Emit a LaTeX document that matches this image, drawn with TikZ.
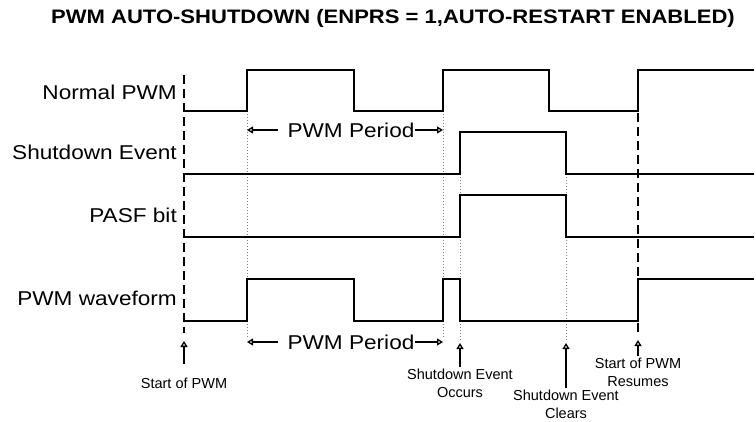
\documentclass[tikz,border=0pt]{standalone}
\usepackage{fontspec}
\setmainfont{Liberation Sans}
\newfontfamily\widesans[FakeStretch=1.13]{Liberation Sans}
\usetikzlibrary{arrows.meta,positioning}

\begin{document}
\begin{tikzpicture}[x=1pt,y=-1pt,
    sig/.style={line width=1.4pt,line join=miter},
    lbl/.style={anchor=east,inner sep=0pt,font=\widesans\fontsize{20}{22}\selectfont},
    period/.style={inner sep=0pt,font=\widesans\fontsize{20}{22}\selectfont},
    guide/.style={gray,dotted,line width=1pt},
    edgeline/.style={line width=1.4pt,dash pattern=on 9pt off 5pt},
    evt/.style={line width=1.3pt,-{Triangle[open,length=6pt,width=7pt]}},
    note/.style={align=center,inner sep=1pt,font=\fontsize{14.5}{18}\selectfont}]

 \useasboundingbox (0,0) rectangle (756,421);

 \node[font=\widesans\bfseries\fontsize{19.5}{21}\selectfont] (title) at (393,18) {PWM AUTO-SHUTDOWN (ENPRS = 1,AUTO-RESTART ENABLED)};

 % signal names
 \node[lbl] (npwm) at (177,92) {Normal PWM};
 \node[lbl] (sdev) at (177,152) {Shutdown Event};
 \node[lbl] (pasf) at (177,215) {PASF bit};
 \node[lbl] (pwmw) at (177,298) {PWM waveform};

 % guide lines
 \draw[guide] (247,111) -- (247,338);
 \draw[guide] (443,111) -- (443,338);
 \draw[guide] (460,132) -- (460,341);
 \draw[guide] (566,132) -- (566,341);
 \draw[edgeline] (184,75) -- (184,333);
 \draw[edgeline] (638,113) -- (638,335);

 % waveforms
 \draw[sig] (184,111) -- (247,111) -- (247,70) -- (354,70) -- (354,111) -- (443,111) -- (443,70) -- (549,70) -- (549,111) -- (638,111) -- (638,70) -- (754,70);
 \draw[sig] (184,174) -- (460,174) -- (460,132) -- (566,132) -- (566,174) -- (754,174);
 \draw[sig] (184,237) -- (460,237) -- (460,195) -- (566,195) -- (566,237) -- (754,237);
 \draw[sig] (184,321) -- (247,321) -- (247,279) -- (354,279) -- (354,321) -- (443,321) -- (443,279) -- (460,279) -- (460,321) -- (638,321) -- (638,279) -- (754,279);

 % periods
 \node[period] (per1) at (351,130) {PWM Period};
 \draw[evt] ([xshift=-9pt]per1.west) -- (247,130);
 \draw[evt] (per1.east) -- (443,130);
 \node[period] (per2) at (351,342) {PWM Period};
 \draw[evt] ([xshift=-9pt]per2.west) -- (247,342);
 \draw[evt] (per2.east) -- (443,342);

 % events
 \node[note] (start) at (184,383) {Start of PWM};
 \node[note] (occ) at (460,383) {Shutdown Event\\Occurs};
 \node[note] (clr) at (566,404) {Shutdown Event\\Clears};
 \node[note] (res) at (638,372) {Start of PWM\\Resumes};
 \draw[evt,shorten <=12pt] (start.north) -- (184,341);
 \draw[evt] (occ.north) -- (460,343);
 \draw[evt] (clr.north) -- (566,343);
 \draw[evt] (res.north) -- (638,340);
\end{tikzpicture}
\end{document}
